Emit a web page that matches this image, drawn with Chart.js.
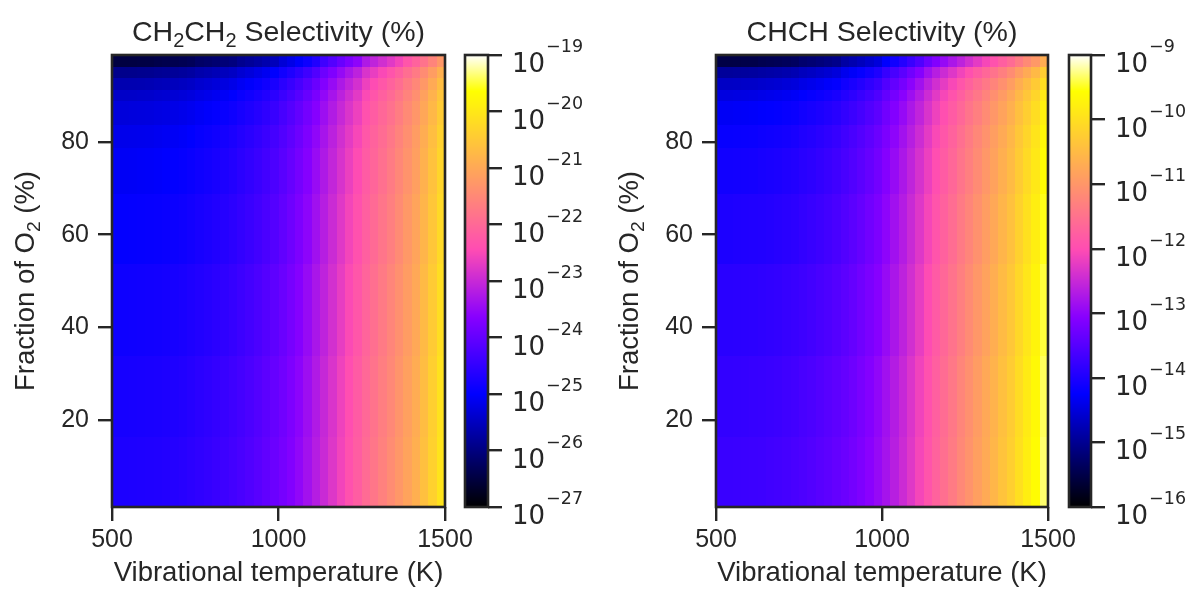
<!DOCTYPE html>
<html>
<head>
<meta charset="utf-8">
<script src="https://cdn.jsdelivr.net/npm/chart.js@4.4.1/dist/chart.umd.min.js"></script>
<style>
  body { margin: 0; background: #fff; width: 1186px; height: 590px; overflow: hidden; position: relative; }
  canvas { position: absolute; top: 0; }
</style>
</head>
<body>
<canvas id="heatA" width="500" height="590" style="left:0px"></canvas>
<canvas id="barA" width="150" height="590" style="left:455px"></canvas>
<canvas id="heatB" width="500" height="590" style="left:595px"></canvas>
<canvas id="barB" width="127" height="590" style="left:1059px"></canvas>
<script>
// cell edges of the grid (K and % O2)
const tempEdges = [500, 525, 550, 575, 600, 625, 650, 675, 700, 725, 750, 775, 800, 825, 850, 875, 900, 925, 950, 975,
  1000, 1025, 1050, 1075, 1100, 1125, 1150, 1175, 1200, 1225, 1250, 1275, 1300, 1325, 1350, 1375, 1400, 1425, 1450, 1475, 1500];
const fracEdges = [1.25, 16.25, 33.75, 53.75, 68.75, 78.75, 83.75, 88.75, 91.25, 93.75, 96.25, 98.75];
const xTickValues = [500, 1000, 1500];
const yTickValues = [20, 40, 60, 80];
const ch2ch2Decades = [-27, -26, -25, -24, -23, -22, -21, -20, -19];
const chchDecades = [-16, -15, -14, -13, -12, -11, -10, -9];

// log10(selectivity), one row per temperature column, O2 fraction bottom -> top
const ch2ch2LogSel = [
  [-24.72, -24.78, -24.86, -24.97, -25.07, -25.16, -25.28, -25.43, -25.62, -25.91, -26.49],
  [-24.72, -24.78, -24.86, -24.97, -25.07, -25.16, -25.28, -25.43, -25.62, -25.91, -26.49],
  [-24.71, -24.77, -24.85, -24.96, -25.06, -25.15, -25.27, -25.42, -25.61, -25.90, -26.48],
  [-24.70, -24.76, -24.84, -24.95, -25.05, -25.14, -25.26, -25.41, -25.60, -25.89, -26.47],
  [-24.69, -24.75, -24.83, -24.94, -25.04, -25.13, -25.25, -25.40, -25.59, -25.88, -26.46],
  [-24.68, -24.74, -24.82, -24.93, -25.02, -25.11, -25.23, -25.37, -25.56, -25.85, -26.42],
  [-24.66, -24.72, -24.80, -24.91, -25.00, -25.09, -25.21, -25.35, -25.54, -25.83, -26.40],
  [-24.64, -24.70, -24.78, -24.89, -24.98, -25.07, -25.19, -25.33, -25.52, -25.81, -26.38],
  [-24.61, -24.67, -24.75, -24.86, -24.95, -25.04, -25.16, -25.30, -25.49, -25.78, -26.35],
  [-24.57, -24.63, -24.71, -24.82, -24.91, -25.00, -25.12, -25.26, -25.45, -25.74, -26.31],
  [-24.53, -24.58, -24.67, -24.77, -24.86, -24.94, -25.06, -25.20, -25.38, -25.66, -26.21],
  [-24.49, -24.54, -24.63, -24.73, -24.82, -24.90, -25.02, -25.16, -25.34, -25.62, -26.17],
  [-24.44, -24.49, -24.58, -24.68, -24.77, -24.85, -24.97, -25.11, -25.29, -25.57, -26.12],
  [-24.39, -24.44, -24.53, -24.63, -24.72, -24.80, -24.92, -25.06, -25.24, -25.52, -26.07],
  [-24.33, -24.38, -24.47, -24.57, -24.66, -24.74, -24.86, -25.00, -25.18, -25.46, -26.01],
  [-24.27, -24.32, -24.40, -24.50, -24.58, -24.66, -24.78, -24.91, -25.09, -25.35, -25.88],
  [-24.20, -24.25, -24.33, -24.43, -24.51, -24.59, -24.71, -24.84, -25.02, -25.28, -25.81],
  [-24.12, -24.17, -24.25, -24.35, -24.43, -24.51, -24.63, -24.76, -24.94, -25.20, -25.73],
  [-24.03, -24.08, -24.16, -24.26, -24.34, -24.42, -24.54, -24.67, -24.85, -25.11, -25.64],
  [-23.93, -23.98, -24.06, -24.16, -24.24, -24.32, -24.44, -24.57, -24.75, -25.01, -25.54],
  [-23.82, -23.87, -23.94, -24.03, -24.11, -24.19, -24.29, -24.42, -24.58, -24.83, -25.32],
  [-23.69, -23.74, -23.81, -23.90, -23.98, -24.06, -24.16, -24.29, -24.45, -24.70, -25.19],
  [-23.54, -23.59, -23.66, -23.75, -23.83, -23.91, -24.01, -24.14, -24.30, -24.55, -25.04],
  [-23.37, -23.42, -23.49, -23.58, -23.66, -23.74, -23.84, -23.97, -24.13, -24.38, -24.87],
  [-23.18, -23.23, -23.30, -23.39, -23.47, -23.55, -23.65, -23.78, -23.94, -24.19, -24.68],
  [-22.98, -23.02, -23.09, -23.17, -23.25, -23.32, -23.42, -23.53, -23.68, -23.91, -24.37],
  [-22.78, -22.82, -22.89, -22.97, -23.05, -23.12, -23.22, -23.33, -23.48, -23.71, -24.17],
  [-22.57, -22.61, -22.68, -22.76, -22.84, -22.91, -23.01, -23.12, -23.27, -23.50, -23.96],
  [-22.37, -22.41, -22.48, -22.56, -22.64, -22.71, -22.81, -22.92, -23.07, -23.30, -23.76],
  [-22.18, -22.22, -22.29, -22.37, -22.45, -22.52, -22.62, -22.73, -22.88, -23.11, -23.57],
  [-21.96, -22.01, -22.07, -22.15, -22.22, -22.28, -22.37, -22.48, -22.62, -22.83, -23.25],
  [-21.79, -21.84, -21.90, -21.98, -22.05, -22.11, -22.20, -22.31, -22.45, -22.66, -23.08],
  [-21.62, -21.67, -21.73, -21.81, -21.88, -21.94, -22.03, -22.14, -22.28, -22.49, -22.91],
  [-21.45, -21.50, -21.56, -21.64, -21.71, -21.77, -21.86, -21.97, -22.11, -22.32, -22.74],
  [-21.27, -21.32, -21.38, -21.46, -21.53, -21.59, -21.68, -21.79, -21.93, -22.14, -22.56],
  [-21.09, -21.13, -21.19, -21.26, -21.33, -21.39, -21.48, -21.58, -21.71, -21.91, -22.30],
  [-20.90, -20.94, -21.00, -21.07, -21.14, -21.20, -21.29, -21.39, -21.52, -21.72, -22.11],
  [-20.63, -20.67, -20.73, -20.80, -20.87, -20.93, -21.02, -21.12, -21.25, -21.45, -21.84],
  [-20.36, -20.40, -20.46, -20.53, -20.60, -20.66, -20.75, -20.85, -20.98, -21.18, -21.57],
  [-20.06, -20.10, -20.16, -20.23, -20.30, -20.36, -20.45, -20.55, -20.68, -20.88, -21.27]
];

const chchLogSel = [
  [-13.75, -13.81, -13.89, -14.00, -14.10, -14.19, -14.31, -14.46, -14.65, -14.94, -15.52],
  [-13.75, -13.81, -13.89, -14.00, -14.10, -14.19, -14.31, -14.46, -14.65, -14.94, -15.52],
  [-13.74, -13.80, -13.88, -13.99, -14.09, -14.18, -14.30, -14.45, -14.64, -14.93, -15.51],
  [-13.73, -13.79, -13.87, -13.98, -14.08, -14.17, -14.29, -14.44, -14.63, -14.92, -15.50],
  [-13.72, -13.78, -13.86, -13.97, -14.07, -14.16, -14.28, -14.43, -14.62, -14.91, -15.49],
  [-13.71, -13.77, -13.85, -13.96, -14.05, -14.14, -14.26, -14.40, -14.59, -14.88, -15.45],
  [-13.69, -13.75, -13.83, -13.94, -14.03, -14.12, -14.24, -14.38, -14.57, -14.86, -15.43],
  [-13.67, -13.73, -13.81, -13.92, -14.01, -14.10, -14.22, -14.36, -14.55, -14.84, -15.41],
  [-13.64, -13.70, -13.78, -13.89, -13.98, -14.07, -14.19, -14.33, -14.52, -14.81, -15.38],
  [-13.61, -13.67, -13.75, -13.86, -13.95, -14.04, -14.16, -14.30, -14.49, -14.78, -15.35],
  [-13.57, -13.62, -13.71, -13.81, -13.90, -13.98, -14.10, -14.24, -14.42, -14.70, -15.25],
  [-13.53, -13.58, -13.67, -13.77, -13.86, -13.94, -14.06, -14.20, -14.38, -14.66, -15.21],
  [-13.48, -13.53, -13.62, -13.72, -13.81, -13.89, -14.01, -14.15, -14.33, -14.61, -15.16],
  [-13.43, -13.48, -13.57, -13.67, -13.76, -13.84, -13.96, -14.10, -14.28, -14.56, -15.11],
  [-13.37, -13.42, -13.51, -13.61, -13.70, -13.78, -13.90, -14.04, -14.22, -14.50, -15.05],
  [-13.31, -13.36, -13.44, -13.53, -13.62, -13.69, -13.81, -13.94, -14.11, -14.37, -14.88],
  [-13.23, -13.28, -13.36, -13.45, -13.54, -13.61, -13.73, -13.86, -14.03, -14.29, -14.80],
  [-13.14, -13.19, -13.27, -13.36, -13.45, -13.52, -13.64, -13.77, -13.94, -14.20, -14.71],
  [-13.04, -13.09, -13.17, -13.26, -13.35, -13.42, -13.54, -13.67, -13.84, -14.10, -14.61],
  [-12.93, -12.98, -13.06, -13.15, -13.24, -13.31, -13.43, -13.56, -13.73, -13.99, -14.50],
  [-12.80, -12.84, -12.92, -13.00, -13.08, -13.16, -13.26, -13.38, -13.54, -13.78, -14.26],
  [-12.64, -12.68, -12.76, -12.84, -12.92, -13.00, -13.10, -13.22, -13.38, -13.62, -14.10],
  [-12.47, -12.51, -12.59, -12.67, -12.75, -12.83, -12.93, -13.05, -13.21, -13.45, -13.93],
  [-12.29, -12.33, -12.41, -12.49, -12.57, -12.65, -12.75, -12.87, -13.03, -13.27, -13.75],
  [-12.10, -12.14, -12.22, -12.30, -12.38, -12.46, -12.56, -12.68, -12.84, -13.08, -13.56],
  [-11.91, -11.95, -12.02, -12.10, -12.18, -12.25, -12.35, -12.46, -12.61, -12.84, -13.30],
  [-11.72, -11.76, -11.83, -11.91, -11.99, -12.06, -12.16, -12.27, -12.42, -12.65, -13.11],
  [-11.54, -11.58, -11.65, -11.73, -11.81, -11.88, -11.98, -12.09, -12.24, -12.47, -12.93],
  [-11.37, -11.41, -11.48, -11.56, -11.64, -11.71, -11.81, -11.92, -12.07, -12.30, -12.76],
  [-11.20, -11.24, -11.31, -11.39, -11.47, -11.54, -11.64, -11.75, -11.90, -12.13, -12.59],
  [-11.04, -11.08, -11.15, -11.23, -11.31, -11.37, -11.47, -11.58, -11.73, -11.96, -12.41],
  [-10.88, -10.92, -10.99, -11.07, -11.15, -11.21, -11.31, -11.42, -11.57, -11.80, -12.25],
  [-10.72, -10.76, -10.83, -10.91, -10.99, -11.05, -11.15, -11.26, -11.41, -11.64, -12.09],
  [-10.56, -10.60, -10.67, -10.75, -10.83, -10.89, -10.99, -11.10, -11.25, -11.48, -11.93],
  [-10.39, -10.43, -10.50, -10.58, -10.66, -10.72, -10.82, -10.93, -11.08, -11.31, -11.76],
  [-10.22, -10.26, -10.33, -10.41, -10.49, -10.55, -10.65, -10.76, -10.91, -11.14, -11.59],
  [-10.00, -10.04, -10.11, -10.19, -10.27, -10.33, -10.43, -10.54, -10.69, -10.92, -11.37],
  [-9.80, -9.84, -9.91, -9.99, -10.07, -10.13, -10.23, -10.34, -10.49, -10.72, -11.17],
  [-9.60, -9.64, -9.71, -9.79, -9.87, -9.93, -10.03, -10.14, -10.29, -10.52, -10.97],
  [-9.32, -9.36, -9.43, -9.51, -9.59, -9.65, -9.75, -9.86, -10.01, -10.24, -10.69]
];

const ch2ch2Title = [['CH'], ['2', true], ['CH'], ['2', true], [' Selectivity (%)']];
const chchTitle = [['CHCH Selectivity (%)']];
const yTitle = [['Fraction of O'], ['2', true], [' (%)']];
const xTitle = 'Vibrational temperature (K)';

const ink = '#262626';
const sans = '"Liberation Sans", Arial, sans-serif';
const mathFont = '"DejaVu Sans", sans-serif';

// matplotlib gnuplot2
function gnuplot2(t) {
  t = Math.min(1, Math.max(0, t));
  const cl = v => Math.min(1, Math.max(0, v));
  const r = cl(t / 0.32 - 0.78125);
  const g = cl(2 * t - 0.84);
  let b;
  if (t < 0.25) b = 4 * t;
  else if (t < 0.42) b = 1;
  else if (t < 0.92) b = -2 * t + 1.84;
  else b = t / 0.08 - 11.5;
  b = cl(b);
  return 'rgb(' + Math.round(r * 255) + ',' + Math.round(g * 255) + ',' + Math.round(b * 255) + ')';
}

// text with subscripts
function drawRich(ctx, parts, x, y, size, align) {
  const widths = parts.map(p => {
    ctx.font = (p[1] ? size * 0.7 : size) + 'px ' + sans;
    return ctx.measureText(p[0]).width;
  });
  const total = widths.reduce((a, b) => a + b, 0);
  let cx = align === 'center' ? x - total / 2 : x;
  ctx.textAlign = 'left';
  ctx.textBaseline = 'alphabetic';
  parts.forEach((p, i) => {
    ctx.font = (p[1] ? size * 0.7 : size) + 'px ' + sans;
    ctx.fillText(p[0], cx, p[1] ? y + size * 0.2 : y);
    cx += widths[i];
  });
}

function cellsFrom(grid) {
  const out = [];
  grid.forEach((col, c) => col.forEach((v, r) => {
    out.push({
      x: (tempEdges[c] + tempEdges[c + 1]) / 2, y: (fracEdges[r] + fracEdges[r + 1]) / 2,
      t0: tempEdges[c], t1: tempEdges[c + 1], f0: fracEdges[r], f1: fracEdges[r + 1], v: v
    });
  }));
  return out;
}

const heatPlugin = {
  id: 'heat',
  beforeDatasetsDraw(chart, args, opts) {
    const { ctx, scales: { x, y } } = chart;
    ctx.save();
    chart.data.datasets[0].data.forEach(c => {
      const x0 = Math.round(x.getPixelForValue(c.t0)), x1 = Math.round(x.getPixelForValue(c.t1));
      const y0 = Math.round(y.getPixelForValue(c.f1)), y1 = Math.round(y.getPixelForValue(c.f0));
      ctx.fillStyle = gnuplot2((c.v - opts.lo) / (opts.hi - opts.lo));
      ctx.fillRect(x0, y0, x1 - x0, y1 - y0);
    });
    ctx.restore();
  },
  afterDatasetsDraw(chart, args, opts) {
    const { ctx, chartArea: a } = chart;
    ctx.save();
    ctx.strokeStyle = ink;
    ctx.lineWidth = 2.6;
    ctx.strokeRect(a.left, a.top, a.right - a.left, a.bottom - a.top);
    ctx.fillStyle = ink;
    drawRich(ctx, opts.title, (a.left + a.right) / 2, a.top - 14, 28.5, 'center');
    ctx.translate(a.left - 78, (a.top + a.bottom) / 2);
    ctx.rotate(-Math.PI / 2);
    drawRich(ctx, yTitle, 0, 0, 27.5, 'center');
    ctx.restore();
  }
};

const barPlugin = {
  id: 'cbar',
  beforeDatasetsDraw(chart, args, opts) {
    const { ctx, chartArea: a, scales: { y } } = chart;
    ctx.save();
    for (let py = Math.floor(a.top); py < a.bottom; py++) {
      const lv = Math.log10(y.getValueForPixel(py + 0.5));
      ctx.fillStyle = gnuplot2((lv - opts.lo) / (opts.hi - opts.lo));
      ctx.fillRect(a.left, py, a.right - a.left, 1);
    }
    ctx.restore();
  },
  afterDatasetsDraw(chart, args, opts) {
    const { ctx, chartArea: a, scales: { y } } = chart;
    ctx.save();
    ctx.strokeStyle = ink;
    ctx.lineWidth = 2.6;
    ctx.strokeRect(a.left, a.top, a.right - a.left, a.bottom - a.top);
    ctx.fillStyle = ink;
    ctx.textAlign = 'left';
    ctx.textBaseline = 'alphabetic';
    opts.decades.forEach(e => {
      const py = y.getPixelForValue(Math.pow(10, e));
      const lx = a.right + 24;
      ctx.font = '26px ' + mathFont;
      ctx.fillText('10', lx, py + 17);
      const w = ctx.measureText('10').width;
      ctx.font = '17.5px ' + mathFont;
      ctx.fillText('\u2212' + Math.abs(e), lx + w + 1, py - 3);
    });
    ctx.restore();
  }
};

function heatChart(id, grid, decades, title, axisWidth, padRight) {
  return new Chart(document.getElementById(id), {
    type: 'scatter',
    data: { datasets: [{ data: cellsFrom(grid), pointRadius: 0 }] },
    plugins: [heatPlugin],
    options: {
      responsive: false, animation: false, events: [],
      layout: { padding: { top: 55, right: padRight, left: 0, bottom: 0 } },
      plugins: {
        legend: { display: false }, tooltip: { enabled: false },
        heat: { lo: decades[0], hi: decades[decades.length - 1], title: title }
      },
      scales: {
        x: {
          type: 'linear', min: 500, max: 1500,
          afterBuildTicks: s => { s.ticks = xTickValues.map(v => ({ value: v })); },
          afterFit: s => { s.height = 83; },
          ticks: { color: ink, font: { family: sans, size: 25 }, padding: 4, maxRotation: 0, callback: v => String(v) },
          grid: { drawOnChartArea: false, tickLength: 14, color: ink, lineWidth: 2.4 },
          border: { display: false },
          title: { display: true, text: xTitle, color: ink, font: { family: sans, size: 27.5 }, padding: { top: 0, bottom: 0 } }
        },
        y: {
          type: 'linear', min: 1.25, max: 98.75,
          afterBuildTicks: s => { s.ticks = yTickValues.map(v => ({ value: v })); },
          afterFit: s => { s.width = axisWidth; },
          ticks: { color: ink, font: { family: sans, size: 25 }, padding: 9, callback: v => String(v) },
          grid: { drawOnChartArea: false, tickLength: 14, color: ink, lineWidth: 2.4 },
          border: { display: false }
        }
      }
    }
  });
}

function barChart(id, decades, axisWidth) {
  return new Chart(document.getElementById(id), {
    type: 'scatter',
    data: { datasets: [{ data: [] }] },
    plugins: [barPlugin],
    options: {
      responsive: false, animation: false, events: [],
      layout: { padding: { top: 55, right: 0, left: 10, bottom: 83 } },
      plugins: {
        legend: { display: false }, tooltip: { enabled: false },
        cbar: { lo: decades[0], hi: decades[decades.length - 1], decades: decades }
      },
      scales: {
        x: { display: false },
        y: {
          type: 'logarithmic', position: 'right',
          min: Math.pow(10, decades[0]), max: Math.pow(10, decades[decades.length - 1]),
          afterBuildTicks: s => { s.ticks = decades.map(e => ({ value: Math.pow(10, e) })); },
          afterFit: s => { s.width = axisWidth; },
          ticks: { display: false },
          grid: { drawOnChartArea: false, tickLength: 14, color: ink, lineWidth: 2.4 },
          border: { display: false }
        }
      }
    }
  });
}

heatChart('heatA', ch2ch2LogSel, ch2ch2Decades, ch2ch2Title, 112, 55);
barChart('barA', ch2ch2Decades, 117);
heatChart('heatB', chchLogSel, chchDecades, chchTitle, 121, 47);
barChart('barB', chchDecades, 95);
</script>
</body>
</html>
